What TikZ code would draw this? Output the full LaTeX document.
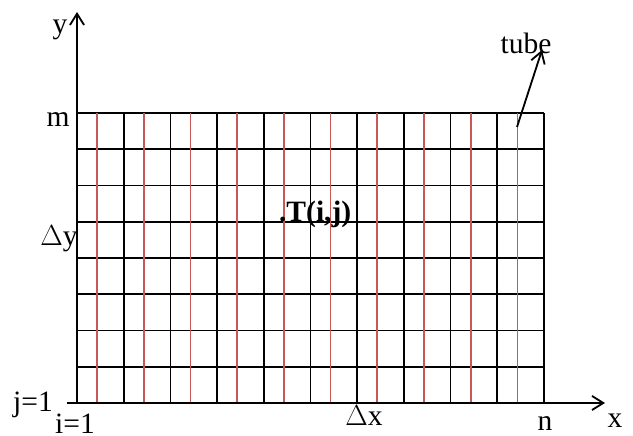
\documentclass[tikz,border=0pt]{standalone}
\usepackage{fontspec}
\setmainfont{Liberation Serif}
\usetikzlibrary{arrows.meta}
\definecolor{tubered}{RGB}{200,88,88}
\begin{document}
\begin{tikzpicture}[x=1.1675cm, y=0.90625cm,
    >={Straight Barb[length=8pt,width=10pt,line width=1.3pt]},
    every node/.style={font=\fontsize{21}{25}\selectfont, inner sep=0pt},
    gridline/.style={line width=1.25pt},
    tubeline/.style={tubered, line width=1.2pt},
    axis/.style={->, line width=1.6pt}]
    \useasboundingbox (-1.649,-0.910) rectangle (11.906,11.117);
    % 1. Lưới
    \foreach \j in {1,...,8}
        \draw[gridline] (0,\j) -- (10,\j);
    \foreach \i in {1,...,10}
        \draw[gridline] (\i,0) -- (\i,8);
    \foreach \i in {0,...,9}
        \draw[tubeline] (\i+0.43,0) -- (\i+0.43,8);

    % 2. Hệ trục tọa độ
    \coordinate (xstart) at (-0.214,0);
    \coordinate (xend) at (11.306,0);
    \coordinate (ystart) at (0,0);
    \coordinate (yend) at (0,10.786);
    \draw[axis] (xstart) -- (xend);
    \draw[axis] (ystart) -- (yend);

    % 3. Nhãn
    \node (ylab) at (-0.364,10.29) {y};
    \node (xlab) at (11.52,-0.497) {x};
    \node (mlab) at (-0.407,7.81) {m};
    \node (dylab) at (-0.385,4.52) {$\Delta$y};
    \node (jlab) at (-0.942,-0.055) {j=1};
    \node (ilab) at (-0.043,-0.56) {i=1};
    \node (dxlab) at (6.146,-0.359) {$\Delta$x};
    \node (nlab) at (10.02,-0.56) {n};
    \node (tij) at (5.10,5.214) {\textbf{.T(i,j)}};

    % 4. Ống
    \node (tube) at (9.615,9.931) {tube};
    \coordinate (tubefoot) at (9.422,7.614);
    \coordinate (tubetip) at (9.957,9.738);
    \draw[->, line width=1.3pt] (tubefoot) -- (tubetip);
\end{tikzpicture}
\end{document}
